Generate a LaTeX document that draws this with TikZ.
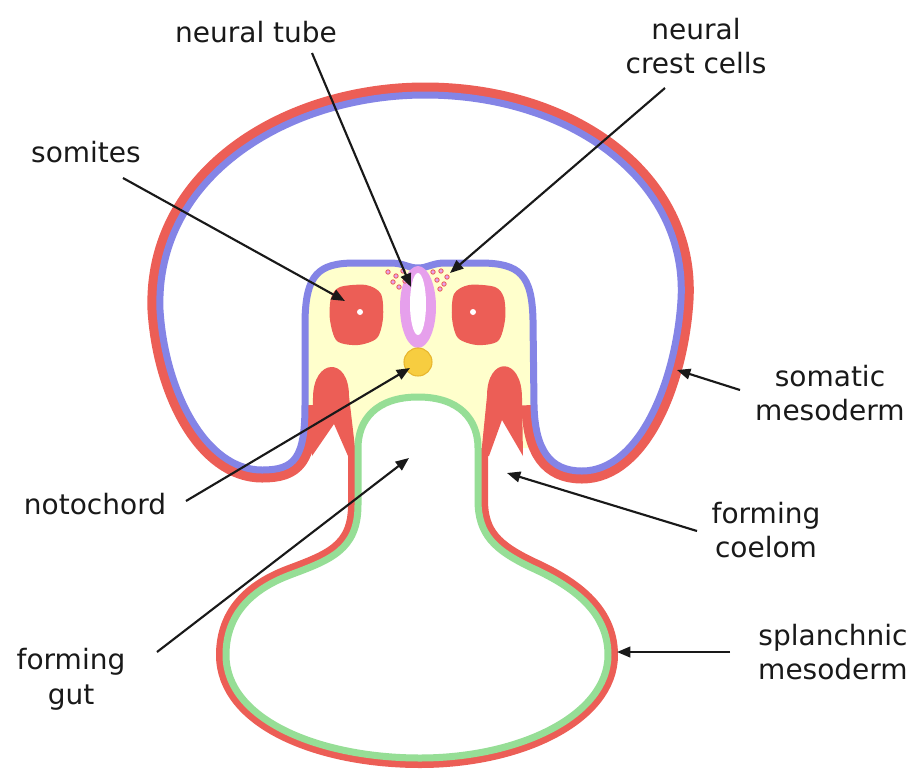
\documentclass[tikz,border=0pt]{standalone}
\usepackage{fontspec}
\setmainfont{DejaVu Sans}
\usetikzlibrary{arrows.meta}
\definecolor{meso}{RGB}{236,94,86}
\definecolor{ecto}{RGB}{132,132,230}
\definecolor{endo}{RGB}{150,222,150}
\definecolor{neuro}{RGB}{255,255,204}
\definecolor{tubec}{RGB}{230,160,236}
\definecolor{chord}{RGB}{247,205,64}
\definecolor{chordedge}{RGB}{232,182,46}
\definecolor{ink}{RGB}{25,25,25}
\begin{document}
\begin{tikzpicture}[x=0.75pt,y=-0.75pt,
  lbl/.style={font=\fontsize{21}{26}\selectfont, text=ink, align=center, inner sep=0pt},
  arr/.style={draw=ink, line width=1.6pt, -{Triangle[length=10pt,width=8pt]}},
  crest/.style={fill=tubec, draw=meso, line width=0.6pt},
]
\useasboundingbox (0,0) rectangle (915,769);

% outer wall of the amniotic cavity, from the left inner side round to the right inner side
\def\outerwall{(305,405) .. controls (305,458) and (295,470) .. (262,470)
  .. controls (205,470) and (165,390) .. (160,310)
  .. controls (155,175) and (290,95) .. (425,95)
  .. controls (570,95) and (688,180) .. (681,300)
  .. controls (676,380) and (640,471) .. (582,471)
  .. controls (550,471) and (535,450) .. (534,405)}

% outer wall of the gut, from the left stalk round to the right stalk
\def\gutwall{(358,448) -- (358,505)
  .. controls (358,550) and (330,560) .. (290,575)
  .. controls (245,592) and (226,620) .. (226,655)
  .. controls (226,720) and (320,758) .. (420,758)
  .. controls (520,758) and (608,715) .. (608,655)
  .. controls (608,610) and (570,585) .. (530,567)
  .. controls (495,550) and (478,535) .. (478,500) -- (478,448)}

% neural plate region (yellow)
\fill[neuro] (298,250) -- (542,250) -- (542,448) -- (523,448) -- (502,418) -- (483,448)
  -- (353,448) -- (334,424) -- (312,448) -- (298,448) -- cycle;

% somatic mesoderm along the outer wall
\draw[meso, line width=18.75pt, line join=round] \outerwall;

% amniotic cavity and its ectoderm lining
\path[save path=\cavitypath] \outerwall -- (533,320)
  .. controls (532,275) and (520,263) .. (480,263) -- (445,263)
  .. controls (432,263) and (428,268) .. (418,268)
  .. controls (408,268) and (404,263) .. (390,263) -- (355,263)
  .. controls (318,263) and (306,275) .. (305,320) -- cycle;
\fill[white, use path=\cavitypath];
\draw[ecto, line width=5.25pt, use path=\cavitypath];

% lateral plate mesoderm, splitting round the forming coelom
\fill[meso] (312,456) -- (313,398) .. controls (313,358) and (349,356) .. (349,396)
  -- (356,456) -- (348,456) -- (334,424) -- cycle;
\fill[meso] (523,456) -- (522,398) .. controls (522,356) and (487,356) .. (487,396)
  -- (481,456) -- (489,456) -- (502,420) -- cycle;

% splanchnic mesoderm around the gut
\draw[meso, line width=15pt, line join=round] \gutwall;

% gut and endoderm
\path[save path=\gutpath] \gutwall
  .. controls (478,420) and (460,397) .. (418,397)
  .. controls (376,397) and (358,420) .. (358,448) -- cycle;
\fill[white, use path=\gutpath];
\draw[endo, line width=5.25pt, use path=\gutpath];

% somites
\fill[meso] plot[smooth cycle] coordinates {
  (340,287) (366,285) (381,294) (383,318) (377,338) (358,345) (337,341) (330,320) (331,298)};
\fill[meso] plot[smooth cycle] coordinates {
  (495,287) (469,285) (454,294) (452,318) (458,338) (477,345) (498,341) (505,320) (504,298)};
\fill[white] (360,312) circle[radius=3];
\fill[white] (473,312) circle[radius=3];

% neural tube
\fill[tubec] (418,307) ellipse[x radius=18, y radius=41];
\fill[white] (418,304) ellipse[x radius=8, y radius=31];

% neural crest cells
\foreach \p in {(388,272),(396,276),(403,271),(393,282),(405,281),(399,287),
                (433,272),(441,271),(447,277),(437,280),(444,284),(440,289)}
  \path[crest] \p circle[radius=2.2];

% notochord
\filldraw[fill=chord, draw=chordedge, line width=0.8pt] (418,362) circle[radius=14];

% labels
\node[lbl, anchor=base] (tubeL) at (256,42) {neural tube};
\node[lbl] (crestL) at (696,46) {neural\\crest cells};
\node[lbl, anchor=base] (somL) at (86,162) {somites};
\node[lbl] (somaL) at (830,393) {somatic\\mesoderm};
\node[lbl, anchor=base] (notoL) at (95,514) {notochord};
\node[lbl] (coelL) at (766,530) {forming\\coelom};
\node[lbl] (gutL) at (71,679) {forming\\gut};
\node[lbl] (splL) at (833,652) {splanchnic\\mesoderm};

% arrow ends
\coordinate (tubeA) at (312,53);   \coordinate (tubeT) at (411,287);
\coordinate (crestA) at (665,88);  \coordinate (crestT) at (450,273);
\coordinate (somA) at (123,178);   \coordinate (somT) at (345,301);
\coordinate (somaA) at (740,390);  \coordinate (somaT) at (677,370);
\coordinate (notoA) at (186,501);  \coordinate (notoT) at (410,368);
\coordinate (coelA) at (697,531);  \coordinate (coelT) at (507,473);
\coordinate (gutA) at (157,652);   \coordinate (gutT) at (409,458);
\coordinate (splA) at (730,652);   \coordinate (splT) at (617,652);

\draw[arr] (tubeA) -- (tubeT);
\draw[arr] (crestA) -- (crestT);
\draw[arr] (somA) -- (somT);
\draw[arr] (somaA) -- (somaT);
\draw[arr] (notoA) -- (notoT);
\draw[arr] (coelA) -- (coelT);
\draw[arr] (gutA) -- (gutT);
\draw[arr] (splA) -- (splT);
\end{tikzpicture}
\end{document}
